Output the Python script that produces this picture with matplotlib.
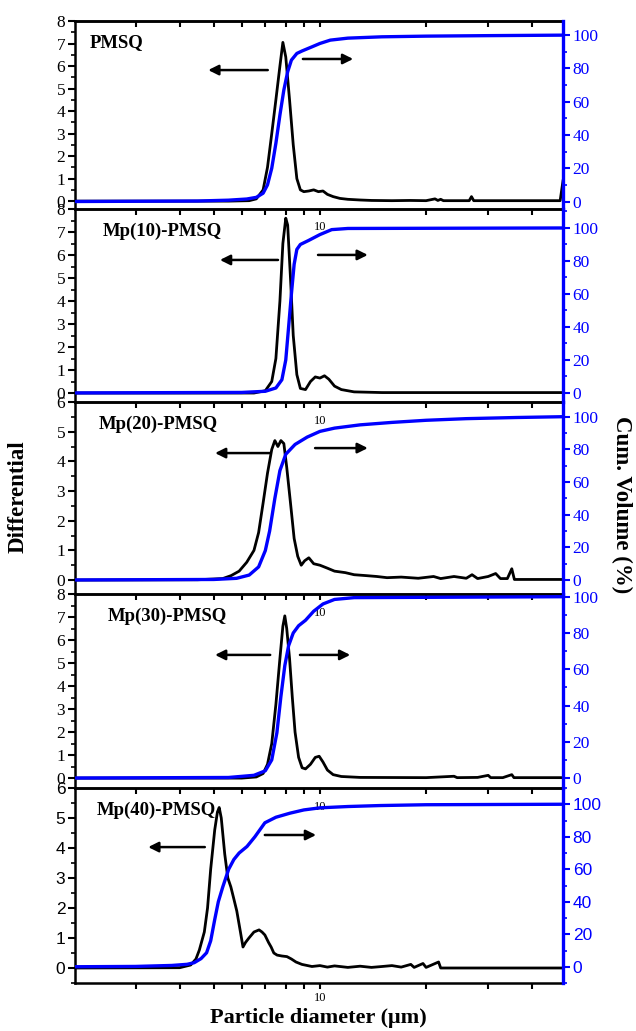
import matplotlib
matplotlib.use("Agg")
import matplotlib.pyplot as plt
from matplotlib.ticker import MultipleLocator, FixedLocator, NullFormatter, FixedFormatter

# ---- data (particle diameter in um) ----
names = ["PMSQ", "Mp(10)-PMSQ", "Mp(20)-PMSQ", "Mp(30)-PMSQ", "Mp(40)-PMSQ"]

# differential curves (black)
d1_x = [2.0, 5.5, 6.3, 6.6, 6.9, 7.1, 7.3, 7.5, 7.7, 7.85, 8.0, 8.2, 8.4, 8.6, 8.8, 9.0, 9.3, 9.6, 9.9,
        10.2, 10.5, 10.9, 11.4, 12.0, 13.0, 14.0, 16.0, 18.0, 20.0, 21.2, 21.6, 22.0, 22.4, 26.5, 26.9,
        27.3, 48.0, 48.9]
d1_y = [0, 0, 0.02, 0.1, 0.5, 1.5, 3.0, 4.5, 6.0, 7.05, 6.4, 4.5, 2.5, 1.0, 0.5, 0.42, 0.45, 0.5, 0.42,
        0.45, 0.3, 0.2, 0.12, 0.08, 0.05, 0.03, 0.02, 0.03, 0.02, 0.1, 0.03, 0.08, 0.02, 0.02, 0.2,
        0.02, 0.02, 0.9]

d2_x = [2.0, 6.5, 7.0, 7.3, 7.5, 7.7, 7.85, 8.0, 8.1, 8.25, 8.4, 8.6, 8.8, 9.1, 9.4, 9.7, 10.0, 10.3,
        10.6, 11.0, 11.5, 12.5, 15.0, 48.9]
d2_y = [0, 0, 0.1, 0.5, 1.5, 4.0, 6.5, 7.6, 7.3, 5.0, 2.5, 0.8, 0.2, 0.15, 0.5, 0.7, 0.65, 0.75,
        0.6, 0.3, 0.15, 0.05, 0.02, 0.02]

d3_x = [2.0, 4.5, 5.3, 5.6, 5.9, 6.2, 6.5, 6.7, 6.9, 7.1, 7.3, 7.45, 7.6, 7.75, 7.9, 8.05, 8.25, 8.45,
        8.65, 8.85, 9.05, 9.3, 9.6, 10.0, 10.5, 11.0, 11.8, 12.5, 13.5, 14.5, 15.5, 17.0, 19.0, 21.0,
        22.0, 24.0, 26.0, 27.0, 28.0, 30.0, 31.5, 32.5, 34.0, 35.0, 35.6, 48.9]
d3_y = [0, 0.01, 0.05, 0.15, 0.3, 0.6, 1.0, 1.6, 2.6, 3.6, 4.4, 4.7, 4.5, 4.7, 4.6, 3.8, 2.6, 1.4,
        0.8, 0.5, 0.65, 0.75, 0.55, 0.5, 0.4, 0.3, 0.25, 0.18, 0.15, 0.12, 0.08, 0.1, 0.06, 0.12,
        0.05, 0.12, 0.06, 0.18, 0.05, 0.12, 0.22, 0.05, 0.05, 0.38, 0.02, 0.02]

d4_x = [2.0, 6.0, 6.6, 6.9, 7.1, 7.3, 7.5, 7.7, 7.85, 7.95, 8.05, 8.2, 8.35, 8.5, 8.7, 8.9, 9.1, 9.4,
        9.7, 9.95, 10.2, 10.5, 10.9, 11.5, 13.0, 20.0, 24.0, 24.5, 28.0, 30.0, 30.5, 33.0, 35.0, 35.5, 48.9]
d4_y = [0, 0, 0.05, 0.2, 0.6, 1.5, 3.2, 5.2, 6.6, 7.05, 6.5, 5.2, 3.5, 2.0, 0.9, 0.45, 0.4, 0.6,
        0.9, 0.95, 0.7, 0.35, 0.15, 0.07, 0.03, 0.02, 0.08, 0.02, 0.03, 0.12, 0.02, 0.02, 0.15, 0.02, 0.02]

d5_x = [2.0, 4.0, 4.3, 4.45, 4.55, 4.7, 4.8, 4.9, 5.03, 5.12, 5.18, 5.25, 5.37, 5.48, 5.59, 5.7, 5.81,
        5.95, 6.05, 6.15, 6.29, 6.5, 6.72, 6.85, 6.98, 7.15, 7.27, 7.4, 7.56, 7.8, 8.06, 8.3, 8.55,
        8.89, 9.49, 10.0, 10.5, 11.0, 12.0, 13.0, 14.0, 15.0, 16.0, 17.0, 18.1, 18.5, 19.6, 20.0,
        21.7, 22.0, 48.9]
d5_y = [0, 0.01, 0.1, 0.3, 0.6, 1.2, 2.0, 3.3, 4.6, 5.2, 5.35, 5.0, 3.8, 3.0, 2.7, 2.3, 1.9,
        1.2, 0.7, 0.85, 1.0, 1.2, 1.27, 1.2, 1.1, 0.85, 0.7, 0.5, 0.43, 0.4, 0.38, 0.3, 0.2,
        0.12, 0.05, 0.08, 0.03, 0.07, 0.02, 0.06, 0.02, 0.05, 0.08, 0.03, 0.12, 0.02, 0.15, 0.02,
        0.2, 0.0, 0.0]

# cumulative volume curves (blue, %)
c1_x = [2.0, 4.5, 5.5, 6.2, 6.6, 6.9, 7.1, 7.3, 7.5, 7.7, 7.9, 8.1, 8.3, 8.6, 8.9, 9.5, 10.0, 10.7,
        12.0, 15.0, 20.0, 30.0, 48.9]
c1_y = [0, 0.3, 0.8, 1.5, 2.5, 5, 10, 20, 35, 52, 67, 78, 85, 89, 90.5, 93, 95, 97,
        98.2, 99, 99.4, 99.7, 100]

c2_x = [2.0, 6.0, 7.0, 7.5, 7.8, 8.0, 8.15, 8.3, 8.45, 8.6, 8.8, 9.3, 10.0, 10.8, 12.0, 48.9]
c2_y = [0, 0.3, 1, 3, 8, 20, 40, 60, 78, 87, 90, 92.5, 96, 99, 99.7, 100]

c3_x = [2.0, 5.0, 5.8, 6.3, 6.7, 7.0, 7.2, 7.45, 7.7, 8.0, 8.5, 9.2, 10.0, 11.0, 13.0, 16.0, 20.0,
        26.0, 36.0, 48.9]
c3_y = [0, 0.3, 1, 3, 8, 18, 30, 50, 67, 77, 83, 87.5, 91, 93, 95, 96.5, 97.8, 98.8, 99.5, 100]

c4_x = [2.0, 5.5, 6.5, 7.0, 7.3, 7.55, 7.75, 7.95, 8.15, 8.4, 8.7, 9.1, 9.6, 10.2, 11.0, 12.5, 48.9]
c4_y = [0, 0.3, 1.5, 4, 10, 25, 45, 62, 73, 80, 84, 87, 92, 96, 98.5, 99.5, 100]

c5_x = [2.0, 3.0, 3.8, 4.2, 4.4, 4.6, 4.77, 4.9, 5.03, 5.15, 5.3, 5.51, 5.7, 5.9, 6.21, 6.54, 6.98,
        7.5, 8.22, 9.0, 10.0, 12.0, 14.8, 20.0, 48.9]
c5_y = [0, 0.2, 0.8, 1.5, 2.5, 5, 8.6, 16, 29, 40, 49, 60, 66, 70, 74, 80, 88.6,
        92, 94.5, 96.5, 97.8, 98.6, 99.2, 99.7, 100]

diff_x = [d1_x, d2_x, d3_x, d4_x, d5_x]
diff_y = [d1_y, d2_y, d3_y, d4_y, d5_y]
cum_x = [c1_x, c2_x, c3_x, c4_x, c5_x]
cum_y = [c1_y, c2_y, c3_y, c4_y, c5_y]

left_lims = [(-0.35, 8), (-0.39, 8), (-0.47, 6), (-0.43, 8), (-0.5, 6)]
right_lims = [(-4.5, 108.5), (-5.5, 111.5), (-8.6, 109), (-5.5, 101.5), (-10, 110)]

# panel edges in pixels (top, bottom) and arrow positions in axes fraction
panel_px = [(21, 209), (209, 402), (402, 594), (594, 788), (788, 983)]
left_arrows = [((0.395, 0.739), (0.273, 0.739)), ((0.416, 0.736), (0.297, 0.736)),
               ((0.400, 0.734), (0.287, 0.734)), ((0.400, 0.686), (0.287, 0.686)),
               ((0.266, 0.697), (0.150, 0.697))]
right_arrows = [((0.467, 0.798), (0.570, 0.798)), ((0.498, 0.762), (0.600, 0.762)),
                ((0.492, 0.760), (0.600, 0.760)), ((0.461, 0.686), (0.564, 0.686)),
                ((0.389, 0.759), (0.494, 0.759))]
label_x = [0.031, 0.057, 0.049, 0.068, 0.045]

W, H = 636, 1031
BLUE = "#0000ff"
serif = "Liberation Serif"
sans = "Liberation Sans"

fig = plt.figure(figsize=(W / 100, H / 100), dpi=100)

for i in range(5):
    top, bot = panel_px[i]
    ax = fig.add_axes([75 / W, 1 - bot / H, 488 / W, (bot - top) / H])
    ax.set_facecolor("none")
    ax.set_xscale("log")
    ax.set_xlim(2.02, 48.9)
    ax.set_ylim(*left_lims[i])
    ax.plot(diff_x[i], diff_y[i], color="black", lw=2.0, zorder=2)

    tick_font = sans if i == 4 else serif

    # x ticks: only "10" labelled
    ax.xaxis.set_major_locator(FixedLocator([10]))
    ax.xaxis.set_major_formatter(FixedFormatter(["10"]))
    ax.xaxis.set_minor_locator(FixedLocator([3, 4, 5, 6, 7, 8, 9, 20, 30, 40]))
    ax.xaxis.set_minor_formatter(NullFormatter())
    ax.tick_params(axis="x", which="both", direction="out", length=4, width=1.5,
                   pad=5 if i < 4 else 2.5, labelsize=9)
    for lab in ax.get_xticklabels():
        lab.set_fontfamily(serif)

    ax.yaxis.set_major_locator(MultipleLocator(1))
    ax.yaxis.set_minor_locator(MultipleLocator(0.5))
    ax.tick_params(axis="y", which="major", direction="out", length=5, width=1.5, labelsize=12.5, pad=2)
    ax.tick_params(axis="y", which="minor", direction="out", length=3, width=1.2)
    for lab in ax.get_yticklabels():
        lab.set_fontfamily(tick_font)

    for s in ax.spines.values():
        s.set_linewidth(1.8)

    if i == 0:
        sec = ax.secondary_xaxis("top")
        sec.xaxis.set_major_locator(FixedLocator([10]))
        sec.xaxis.set_minor_locator(FixedLocator([3, 4, 5, 6, 7, 8, 9, 20, 30, 40]))
        sec.xaxis.set_major_formatter(NullFormatter())
        sec.xaxis.set_minor_formatter(NullFormatter())
        sec.tick_params(which="both", direction="in", length=4, width=1.5)
        sec.spines["top"].set_linewidth(1.8)

    # cumulative volume on the right axis
    ax2 = ax.twinx()
    ax2.set_facecolor("none")
    ax2.set_ylim(*right_lims[i])
    ax2.plot(cum_x[i], cum_y[i], color=BLUE, lw=2.4, zorder=3)
    ax2.yaxis.set_major_locator(MultipleLocator(20))
    ax2.yaxis.set_minor_locator(MultipleLocator(10))
    ax2.tick_params(axis="y", which="major", direction="out", length=5, width=1.5, colors=BLUE,
                    labelsize=12.5, pad=2)
    ax2.tick_params(axis="y", which="minor", direction="out", length=3, width=1.2, colors=BLUE)
    for lab in ax2.get_yticklabels():
        lab.set_fontfamily(tick_font)
    for side in ["left", "top", "bottom"]:
        ax2.spines[side].set_visible(False)
    ax2.spines["right"].set_color(BLUE)
    ax2.spines["right"].set_linewidth(2.4)

    ax.text(label_x[i], 1 - 22 / (bot - top), names[i], transform=ax.transAxes, ha="left",
            va="center", fontsize=13.5, fontweight="bold", family=serif)

    # direction arrows
    for tail, head in [left_arrows[i], right_arrows[i]]:
        ax2.annotate("", xy=head, xytext=tail, xycoords="axes fraction", textcoords="axes fraction",
                     arrowprops=dict(arrowstyle="-|>", color="black", lw=1.8, mutation_scale=15,
                                     shrinkA=0, shrinkB=0))

fig.text(318 / W, 1 - 1018 / H, "Particle diameter (\u03bcm)", ha="center", va="center",
         fontsize=16, fontweight="bold", family=serif)
fig.text(18 / W, 1 - 497 / H, "Differential", ha="center", va="center", rotation=90,
         fontsize=16.5, fontweight="bold", family=serif)
fig.text(622 / W, 1 - 505 / H, "Cum. Volume (%)", ha="center", va="center", rotation=270,
         fontsize=16.5, fontweight="bold", family=serif)

fig.savefig("out.png", dpi=100)
